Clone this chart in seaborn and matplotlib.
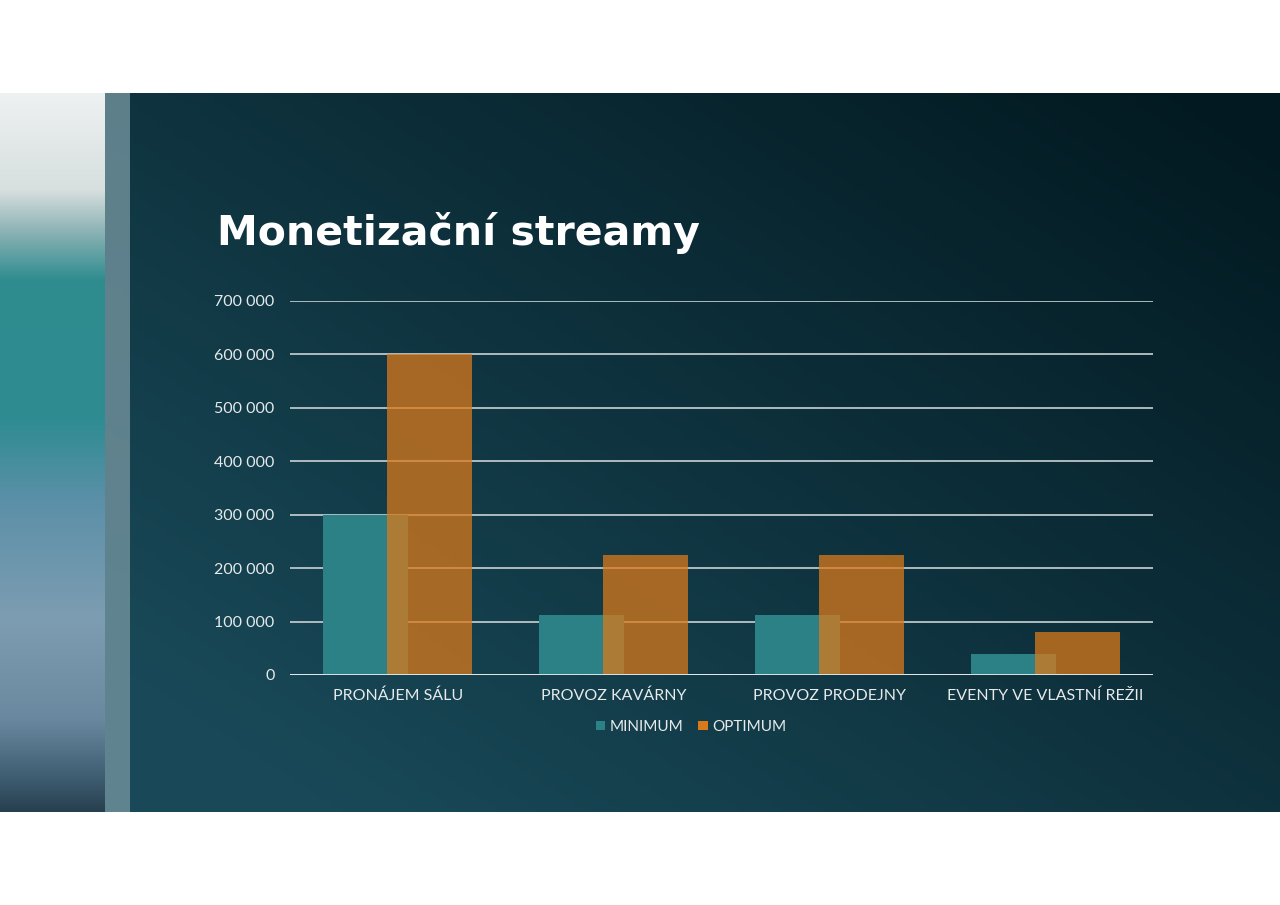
#!/usr/bin/env python3
"""Monetizační streamy: overlapping bar chart on a dark slide background."""

import numpy as np
import pandas as pd
import matplotlib
matplotlib.use("Agg")
import matplotlib.pyplot as plt
from matplotlib.ticker import FuncFormatter
import seaborn as sns

CATEGORIES = ["PRONÁJEM SÁLU", "PROVOZ KAVÁRNY", "PROVOZ PRODEJNY",
              "EVENTY VE VLASTNÍ REŽII"]
MINIMUM = [300000, 112500, 112500, 40000]
OPTIMUM = [600000, 225000, 225000, 80000]
SERIES = ["MINIMUM", "OPTIMUM"]
Y_TICKS = [0, 100000, 200000, 300000, 400000, 500000, 600000, 700000]

TITLE = "Monetizační streamy"
FONT = "Lato"
TEXT_COLOR = "#e6eaea"
TEAL = "#2b8185"
ORANGE = "#d9791a"

W, H = 1280, 905


def fx(px):
    return px / W


def fy(py):
    return (H - py) / H


def draw_background(fig):
    """Slide band with dark diagonal gradient, wave strip on the left."""
    bg = fig.add_axes([0, fy(812), 1, fy(93) - fy(812)])
    bg.set_axis_off()
    ny, nx = 200, 400
    yy, xx = np.mgrid[0:1:ny * 1j, 0:1:nx * 1j]
    t = np.clip(0.65 * xx + 0.55 * (1 - yy) - 0.15, 0, 1)
    light = np.array([0.10, 0.29, 0.35])
    dark = np.array([0.01, 0.10, 0.13])
    img = light[None, None, :] * (1 - t[..., None]) + dark[None, None, :] * t[..., None]
    bg.imshow(img, extent=[0, W, 812, 93], aspect="auto")

    # wave photo approximated by a vertical colour ramp
    stops = [(93, "#eef1f1"), (190, "#d7dfdf"), (230, "#8fb4b6"),
             (280, "#2f8c8f"), (420, "#2e8c92"), (500, "#5b90a8"),
             (620, "#7d9db2"), (720, "#6a89a0"), (780, "#3e5c70"),
             (812, "#27404f")]
    ys = np.linspace(93, 812, 300)
    cols = np.array([matplotlib.colors.to_rgb(c) for _, c in stops])
    ramp = np.stack([np.interp(ys, [s for s, _ in stops], cols[:, k])
                     for k in range(3)], axis=-1)
    bg.imshow(ramp[:, None, :], extent=[0, 105, 812, 93], aspect="auto")
    bg.imshow(np.ones((1, 1, 3)) * np.array([0.45, 0.58, 0.62]),
              extent=[105, 130, 812, 93], aspect="auto", alpha=0.8)
    bg.set_xlim(0, W)
    bg.set_ylim(812, 93)


def main():
    sns.set_theme(style="dark")
    plt.rcParams["font.family"] = [FONT, "DejaVu Sans"]

    df = pd.DataFrame({
        "category": CATEGORIES * 2,
        "series": [SERIES[0]] * len(CATEGORIES) + [SERIES[1]] * len(CATEGORIES),
        "value": MINIMUM + OPTIMUM,
    })

    fig = plt.figure(figsize=(W / 100, H / 100), dpi=100, facecolor="white")
    draw_background(fig)

    ax = fig.add_axes([fx(290), fy(675), fx(1153) - fx(290), fy(301) - fy(675)])
    ax.set_facecolor("none")
    sns.barplot(data=df, x="category", y="value", hue="series",
                order=CATEGORIES, hue_order=SERIES,
                palette=[TEAL, ORANGE], width=0.593, gap=-0.328,
                linewidth=0, saturation=1, ax=ax)
    for bar in ax.containers[1]:
        bar.set_alpha(0.75)

    ax.set_ylim(0, 700000)
    ax.set_yticks(Y_TICKS)
    ax.yaxis.set_major_formatter(
        FuncFormatter(lambda v, _: f"{int(v):,}".replace(",", " ")))
    ax.set_xlim(-0.5, len(CATEGORIES) - 0.5)
    ax.grid(axis="y", color="#c9d2d4", linewidth=1.2)
    ax.grid(axis="x", visible=False)
    ax.set_axisbelow(True)
    ax.axhline(0, color="#e8eded", linewidth=2, zorder=3)
    for s in ax.spines.values():
        s.set_visible(False)
    ax.set_xlabel("")
    ax.set_ylabel("")
    ax.tick_params(axis="y", colors=TEXT_COLOR, labelsize=11.5, pad=11, length=0)
    ax.tick_params(axis="x", colors=TEXT_COLOR, labelsize=11.5, pad=10, length=0)

    handles, labels = ax.get_legend_handles_labels()
    ax.legend_.remove()
    leg = fig.legend(handles, labels, loc="center", ncol=2,
                     bbox_to_anchor=(fx(691), fy(727)), frameon=False,
                     fontsize=11, handlelength=0.6, handleheight=0.6,
                     handletextpad=0.3, columnspacing=1.0)
    for txt in leg.get_texts():
        txt.set_color(TEXT_COLOR)

    fig.text(fx(217), fy(245), TITLE, color="white", fontsize=29.5,
             fontweight="bold", family="DejaVu Sans",
             va="baseline", ha="left")

    fig.savefig("out.png", dpi=100, facecolor="white")


if __name__ == "__main__":
    main()
